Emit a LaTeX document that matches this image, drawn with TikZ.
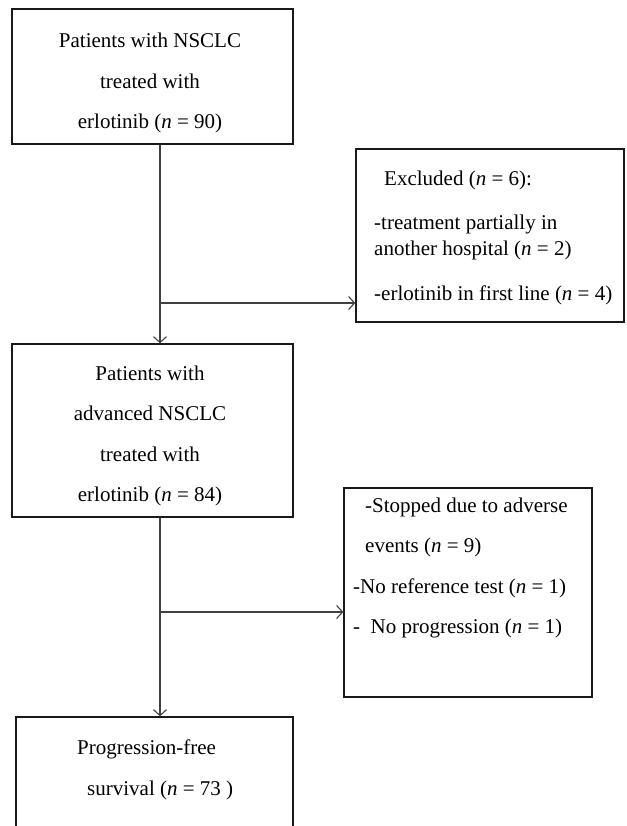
\documentclass[tikz,border=0pt]{standalone}
\usepackage{fontspec}
\setmainfont{Liberation Serif}
\usetikzlibrary{arrows.meta,calc}

\begin{document}
\begin{tikzpicture}[x=1pt,y=-1pt,
  box/.style={draw=black!90,line width=1.3pt,inner sep=0pt},
  txt/.style={font=\fontsize{21}{40.5}\selectfont,inner sep=0pt},
  flow/.style={draw=black!75,line width=1.4pt,-{Straight Barb[length=6pt,width=13pt,line width=1.1pt]}}]
\clip (0,0) rectangle (626,826);
% boxes
\node[box,minimum width=281pt,minimum height=135pt] (b1) at (152.5,76.5) {};
\node[box,minimum width=281pt,minimum height=173pt] (b2) at (152.5,430.5) {};
\node[box,minimum width=268pt,minimum height=173pt] (b3) at (490,235.5) {};
\node[box,minimum width=248pt,minimum height=209pt] (b4) at (468,592.5) {};
\node[box,minimum width=277pt,minimum height=180pt] (b5) at (154.5,807) {};
% texts
\node[txt,align=center] (t1) at (150,83) {Patients with NSCLC\\treated with\\erlotinib (\textit{n} = 90)};
\node[txt,align=center] (t2) at (150,436) {Patients with\\advanced NSCLC\\treated with\\erlotinib (\textit{n} = 84)};
\node[txt,align=left,anchor=west] (t3) at (374,238) {\hspace{10pt}Excluded (\textit{n} = 6):\\[3.5pt]-treatment partially in\\[-14.5pt]another hospital (\textit{n} = 2)\\[4.5pt]-erlotinib in first line (\textit{n} = 4)};
\node[txt,align=left,anchor=west] (t4) at (353,568) {\hspace{12pt}-Stopped due to adverse\\\hspace{12pt}events (\textit{n} = 9)\\-No reference test (\textit{n} = 1)\\- \ No progression (\textit{n} = 1)};
\node[txt,align=left,anchor=west] (t5) at (77,770) {Progression-free\\\hspace{10pt}survival (\textit{n} = 73 )};
% connectors
\coordinate (br1) at (160,303);
\coordinate (br2) at (160,612);
\draw[flow] (br1 |- b1.south) -- (br1 |- b2.north);
\draw[flow] (br1) -- (br1 -| b3.west);
\draw[flow] (br2 |- b2.south) -- (br2 |- b5.north);
\draw[flow] (br2) -- (br2 -| b4.west);
\end{tikzpicture}
\end{document}
